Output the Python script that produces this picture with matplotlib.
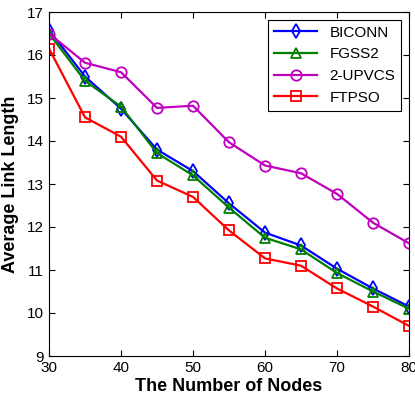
import matplotlib
matplotlib.use('Agg')
import matplotlib.pyplot as plt

plt.rcParams['font.family'] = ['Liberation Sans', 'DejaVu Sans']

nodes = [30, 35, 40, 45, 50, 55, 60, 65, 70, 75, 80]
biconn = [16.58, 15.5, 14.75, 13.8, 13.3, 12.55, 11.87, 11.57, 11.03, 10.57, 10.15]
fgss2 = [16.5, 15.4, 14.8, 13.72, 13.2, 12.45, 11.75, 11.48, 10.93, 10.5, 10.1]
upvcs = [16.5, 15.82, 15.6, 14.77, 14.82, 13.97, 13.43, 13.25, 12.77, 12.1, 11.62]
ftpso = [16.15, 14.55, 14.1, 13.08, 12.7, 11.92, 11.27, 11.1, 10.57, 10.15, 9.7]

fig = plt.figure(figsize=(4.15, 4.05), dpi=100)
ax = fig.add_axes([49/415, 1 - 356/405, 360/415, 344/405])

# open markers, matlab-ish look
mk = dict(markersize=7.5, markerfacecolor='none', markeredgewidth=1.3, linewidth=1.6)
ax.plot(nodes, biconn, color='#0000ff', marker='d', label='BICONN', **mk)
ax.plot(nodes, fgss2, color='#007f00', marker='^', label='FGSS2', **mk)
ax.plot(nodes, upvcs, color='#bf00bf', marker='o', label='2-UPVCS', **mk)
ax.plot(nodes, ftpso, color='#ff0000', marker='s', label='FTPSO', **mk)

ax.set_xlim(30, 80)
ax.set_ylim(9, 17)
ax.set_xticks(range(30, 81, 10))
ax.set_yticks(range(9, 18))
ax.tick_params(direction='in', top=True, right=True, labelsize=11, length=4)
ax.set_xlabel('The Number of Nodes', fontsize=13, fontweight='bold', labelpad=2)
ax.set_ylabel('Average Link Length', fontsize=13, fontweight='bold', labelpad=6)

leg = ax.legend(loc='upper right', fontsize=11, fancybox=False, framealpha=1,
                edgecolor='black', handlelength=2.8, borderaxespad=0.5)
leg.get_frame().set_linewidth(0.8)

fig.savefig('out.png', dpi=100)
